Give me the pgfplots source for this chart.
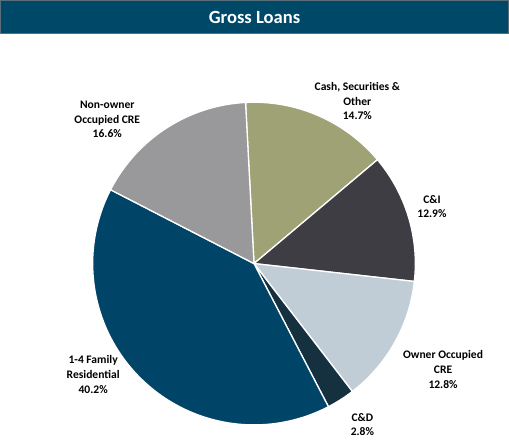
\documentclass[border=0pt]{standalone}
\usepackage{pgfplots}
\pgfplotsset{compat=1.18}
\usepackage{fontspec}
\setmainfont{Carlito}
\definecolor{titlebg}{RGB}{0,72,104}
\definecolor{cCash}{RGB}{159,162,116}
\definecolor{cCI}{RGB}{62,61,68}
\definecolor{cOwner}{RGB}{192,205,215}
\definecolor{cCD}{RGB}{21,48,63}
\definecolor{cFam}{RGB}{0,69,103}
\definecolor{cNon}{RGB}{153,153,155}
% shares (percent)
\def\pCash{14.7}
\def\pCI{12.9}
\def\pOwner{12.8}
\def\pCD{2.8}
\def\pFam{40.2}
\def\pNon{16.6}
\pgfmathsetmacro\aA{93}
\pgfmathsetmacro\aB{\aA-3.6*\pCash}
\pgfmathsetmacro\aC{\aB-3.6*\pCI}
\pgfmathsetmacro\aD{\aC-3.6*\pOwner}
\pgfmathsetmacro\aE{\aD-3.6*\pCD}
\pgfmathsetmacro\aF{\aE-3.6*\pFam}
\pgfmathsetmacro\aG{\aF-3.6*\pNon}
\def\cx{252.5}
\def\cy{178}
\def\R{160}
\begin{document}
\begin{tikzpicture}[lbl/.style={font=\bfseries\fontsize{11.5}{14.5}\selectfont, align=center, text=black}]
\begin{axis}[
  scale only axis, width=509bp, height=441bp,
  xmin=0, xmax=509, ymin=0, ymax=441,
  axis lines=none, clip=false,
]
% title bar
\draw[fill=titlebg, draw=gray!70!titlebg, line width=0.8pt] (axis cs:1,406) rectangle (axis cs:505,439);
\node[text=white, font=\bfseries\fontsize{18.5}{20}\selectfont] at (axis cs:253,422) {Gross Loans};
% slices
\addplot[fill=cCash, draw=white, line width=1.3pt, domain=\aB:\aA, samples=60, variable=\t]
  ({\cx+\R*cos(t)}, {\cy+\R*sin(t)}) -- (axis cs:\cx,\cy) -- cycle;
\addplot[fill=cCI, draw=white, line width=1.3pt, domain=\aC:\aB, samples=60, variable=\t]
  ({\cx+\R*cos(t)}, {\cy+\R*sin(t)}) -- (axis cs:\cx,\cy) -- cycle;
\addplot[fill=cOwner, draw=white, line width=1.3pt, domain=\aD:\aC, samples=60, variable=\t]
  ({\cx+\R*cos(t)}, {\cy+\R*sin(t)}) -- (axis cs:\cx,\cy) -- cycle;
\addplot[fill=cCD, draw=white, line width=1.3pt, domain=\aE:\aD, samples=20, variable=\t]
  ({\cx+\R*cos(t)}, {\cy+\R*sin(t)}) -- (axis cs:\cx,\cy) -- cycle;
\addplot[fill=cFam, draw=white, line width=1.3pt, domain=\aF:\aE, samples=120, variable=\t]
  ({\cx+\R*cos(t)}, {\cy+\R*sin(t)}) -- (axis cs:\cx,\cy) -- cycle;
\addplot[fill=cNon, draw=white, line width=1.3pt, domain=\aG:\aF, samples=60, variable=\t]
  ({\cx+\R*cos(t)}, {\cy+\R*sin(t)}) -- (axis cs:\cx,\cy) -- cycle;
% labels
\node[lbl] at (axis cs:355,339) {Cash, Securities \&\\Other\\14.7\%};
\node[lbl] at (axis cs:429,234.5) {C\&I\\12.9\%};
\node[lbl] at (axis cs:440,73) {Owner Occupied\\CRE\\12.8\%};
\node[lbl] at (axis cs:360,18.5) {C\&D\\2.8\%};
\node[lbl] at (axis cs:93,68) {1-4 Family\\Residential\\40.2\%};
\node[lbl] at (axis cs:107,321) {Non-owner\\Occupied CRE\\16.6\%};
\end{axis}
\end{tikzpicture}
\end{document}
